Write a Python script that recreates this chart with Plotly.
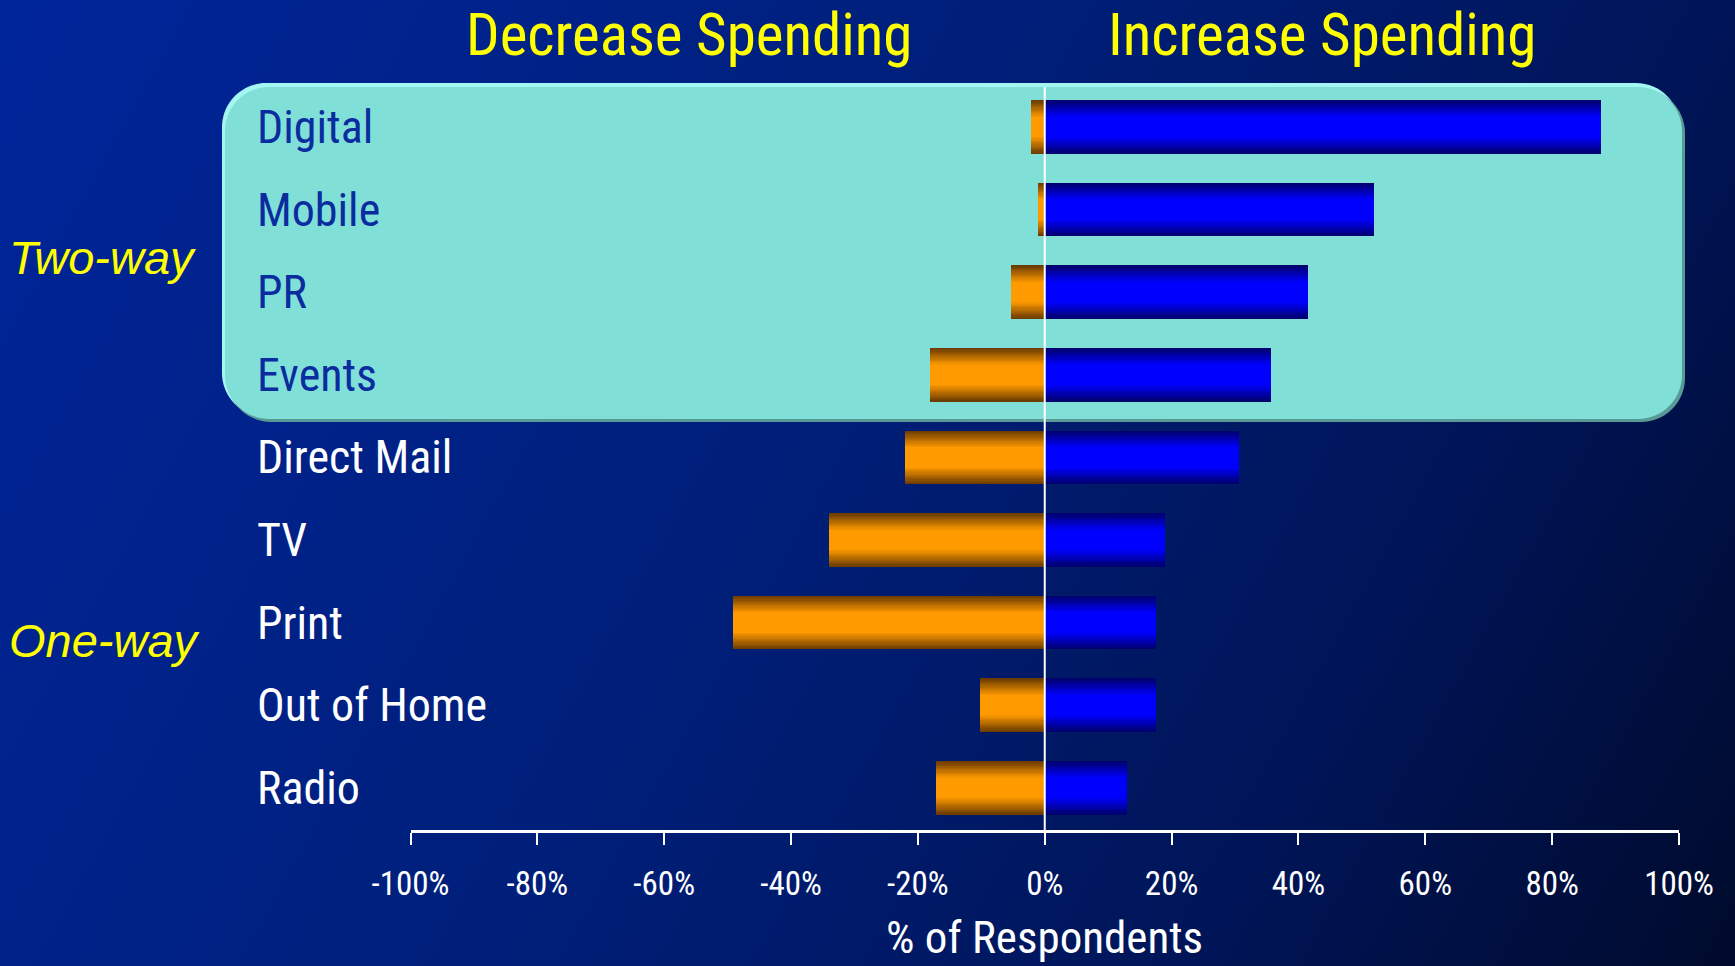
import base64
import plotly.graph_objects as go

W, H = 1735, 966

# ---- data -------------------------------------------------------------
categories = ["Digital", "Mobile", "PR", "Events", "Direct Mail",
              "TV", "Print", "Out of Home", "Radio"]
decrease_pct = [-2.3, -1.2, -5.4, -18.2, -22.1, -34.1, -49.3, -10.3, -17.2]
increase_pct = [87.6, 51.8, 41.4, 35.6, 30.5, 18.9, 17.4, 17.4, 12.9]
two_way = ["Digital", "Mobile", "PR", "Events"]
tick_values = [-100, -80, -60, -40, -20, 0, 20, 40, 60, 80, 100]
tick_labels = [f"{v}%" for v in tick_values]

# ---- layout geometry (pixels) ---------------------------------------
PLOT_L, PLOT_R, PLOT_T, PLOT_B = 410.5, 1679, 87, 830
BOX_L, BOX_R, BOX_T, BOX_B, BOX_RAD = 225, 1682, 87, 419, 44
LABEL_X = 255
BAR_W = 0.65

NARROW = "Roboto Condensed, Liberation Sans Narrow, Arial Narrow, sans-serif"
SANS = "Liberation Sans, Arial, sans-serif"


def px(x):
    return x / W


def py(y):
    return 1 - y / H


def rounded_rect(x0, y0, x1, y1, r):
    k = 0.552 * r
    return (
        f"M {px(x0 + r)},{py(y0)} L {px(x1 - r)},{py(y0)} "
        f"C {px(x1 - r + k)},{py(y0)} {px(x1)},{py(y0 + r - k)} {px(x1)},{py(y0 + r)} "
        f"L {px(x1)},{py(y1 - r)} "
        f"C {px(x1)},{py(y1 - r + k)} {px(x1 - r + k)},{py(y1)} {px(x1 - r)},{py(y1)} "
        f"L {px(x0 + r)},{py(y1)} "
        f"C {px(x0 + r - k)},{py(y1)} {px(x0)},{py(y1 - r + k)} {px(x0)},{py(y1 - r)} "
        f"L {px(x0)},{py(y0 + r)} "
        f"C {px(x0)},{py(y0 + r - k)} {px(x0 + r - k)},{py(y0)} {px(x0 + r)},{py(y0)} Z"
    )


def lerp(c0, c1, t):
    return "rgb({},{},{})".format(*[round(a + (b - a) * t) for a, b in zip(c0, c1)])


# ---- background gradient as an inline SVG image ------------------------
svg = (
    f'<svg xmlns="http://www.w3.org/2000/svg" width="{W}" height="{H}" '
    f'viewBox="0 0 {W} {H}" preserveAspectRatio="none">'
    '<defs><linearGradient id="g" gradientUnits="userSpaceOnUse" '
    f'x1="0" y1="0" x2="{W}" y2="{H}">'
    '<stop offset="0" stop-color="#00259a"/>'
    '<stop offset="0.45" stop-color="#001f7a"/>'
    '<stop offset="0.76" stop-color="#001558"/>'
    '<stop offset="1" stop-color="#000a2c"/>'
    '</linearGradient></defs>'
    f'<rect x="0" y="0" width="{W}" height="{H}" fill="url(#g)"/></svg>'
)
bg_uri = "data:image/svg+xml;base64," + base64.b64encode(svg.encode()).decode()

fig = go.Figure()

# ---- bars: stacked overlays of narrowing bars give a vertical sheen -----
N = 14
orange_dark, orange_bright = (108, 60, 0), (255, 154, 0)
blue_dark, blue_bright = (0, 0, 110), (0, 0, 255)
for k in range(N + 1):
    t = k / N
    frac = 1 - 0.62 * t
    fig.add_trace(go.Bar(
        x=decrease_pct, y=categories, orientation="h",
        width=BAR_W * frac, marker=dict(color=lerp(orange_dark, orange_bright, t), line_width=0),
        hoverinfo="skip", showlegend=False,
    ))
    fig.add_trace(go.Bar(
        x=increase_pct, y=categories, orientation="h",
        width=BAR_W * frac, marker=dict(color=lerp(blue_dark, blue_bright, t), line_width=0),
        hoverinfo="skip", showlegend=False,
    ))

# ---- highlighted "two-way" panel ------------------------------------
shapes = [
    dict(type="path", xref="paper", yref="paper", layer="below",
         path=rounded_rect(BOX_L - 3, BOX_T - 4, BOX_R - 2, BOX_B - 2, BOX_RAD),
         fillcolor="#a4f6f2", line_width=0),
    dict(type="path", xref="paper", yref="paper", layer="below",
         path=rounded_rect(BOX_L + 2, BOX_T + 2, BOX_R + 3, BOX_B + 3, BOX_RAD),
         fillcolor="#5a9a96", line_width=0),
    dict(type="path", xref="paper", yref="paper", layer="below",
         path=rounded_rect(BOX_L, BOX_T, BOX_R, BOX_B, BOX_RAD),
         fillcolor="#80e0d8", line_width=0),
    # zero reference line
    dict(type="line", xref="x", yref="paper", x0=0, x1=0,
         y0=py(PLOT_B), y1=py(PLOT_T), line=dict(color="white", width=2), layer="above"),
]

annotations = []
for cat in categories:
    annotations.append(dict(
        x=px(LABEL_X), xref="paper", y=cat, yref="y", xanchor="left", yanchor="middle",
        text=cat, showarrow=False,
        font=dict(family=NARROW, size=46, color="#0a2c9e" if cat in two_way else "white"),
    ))

annotations += [
    dict(x=px(689), y=1, xref="paper", yref="paper", text="Decrease Spending",
         showarrow=False, xanchor="center", yanchor="top", yshift=2,
         font=dict(family=NARROW, size=59, color="#ffff00")),
    dict(x=px(1322), y=1, xref="paper", yref="paper", text="Increase Spending",
         showarrow=False, xanchor="center", yanchor="top", yshift=2,
         font=dict(family=NARROW, size=59, color="#ffff00")),
    dict(x=px(7), y=py(257), xref="paper", yref="paper", text="<i>Two-way</i>",
         showarrow=False, xanchor="left", yanchor="middle",
         font=dict(family=SANS, size=47, color="#ffff00")),
    dict(x=px(7), y=py(640), xref="paper", yref="paper", text="<i>One-way</i>",
         showarrow=False, xanchor="left", yanchor="middle",
         font=dict(family=SANS, size=47, color="#ffff00")),
    dict(x=0, xref="x", y=0, yref="paper", text="% of Respondents",
         showarrow=False, xanchor="center", yanchor="bottom",
         font=dict(family=NARROW, size=45, color="white")),
]

row_pitch = 82.6
first_center = 127
y_top = (PLOT_T - first_center) / row_pitch
y_bottom = (PLOT_B - first_center) / row_pitch

fig.update_layout(
    width=W, height=H, autosize=False,
    margin=dict(l=0, r=0, t=0, b=0, pad=0, autoexpand=False),
    paper_bgcolor="#001a6e", plot_bgcolor="rgba(0,0,0,0)",
    barmode="overlay", bargap=0,
    images=[dict(source=bg_uri, xref="paper", yref="paper", x=0, y=1,
                 sizex=1, sizey=1, xanchor="left", yanchor="top",
                 sizing="stretch", layer="below")],
    shapes=shapes,
    annotations=annotations,
    xaxis=dict(
        domain=[px(PLOT_L), px(PLOT_R)], range=[-100, 100],
        tickmode="array", tickvals=tick_values, ticktext=tick_labels,
        showgrid=False, zeroline=False, automargin=False,
        showline=True, linecolor="white", linewidth=3,
        ticks="outside", ticklen=12, tickwidth=2, tickcolor="white",
        ticklabelstandoff=10,
        tickfont=dict(family=NARROW, size=33, color="white"),
        fixedrange=True,
    ),
    yaxis=dict(
        domain=[py(PLOT_B), py(PLOT_T)], automargin=False,
        categoryorder="array", categoryarray=categories,
        range=[y_bottom, y_top],
        visible=False, showgrid=False, zeroline=False, fixedrange=True,
    ),
)

fig.write_html("out.html")
